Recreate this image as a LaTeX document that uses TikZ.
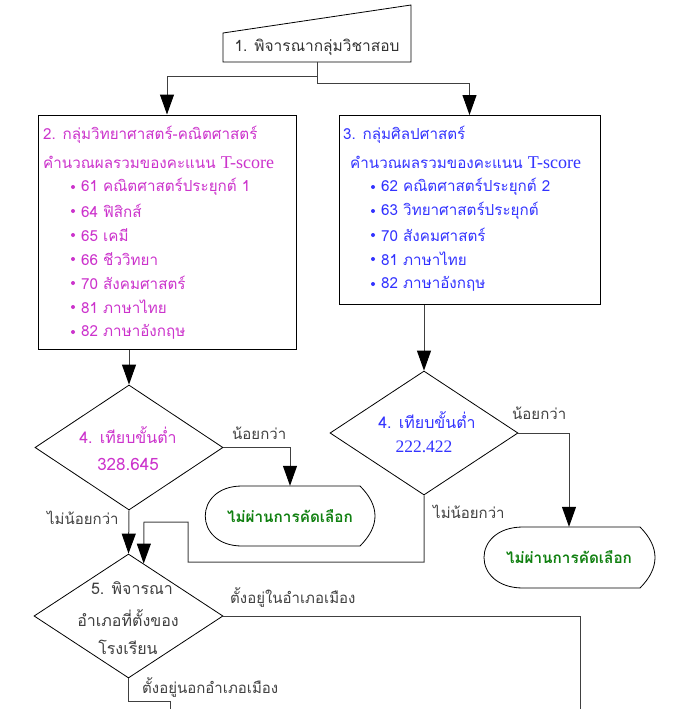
\documentclass[tikz,border=0pt]{standalone}
\usepackage{fontspec}
\setmainfont[Script=Thai]{Loma}
\newfontfamily\lser{Liberation Serif}
\usetikzlibrary{shapes.geometric,arrows.meta,calc}
\definecolor{mag}{RGB}{204,51,204}
\definecolor{blu}{RGB}{51,51,255}
\definecolor{grn}{RGB}{16,128,16}
\definecolor{lab}{RGB}{64,64,64}
\newcommand{\tsc}{{\lser\fontsize{18}{18}\selectfont T-score}}
\tikzset{
  boxshape/.style={draw=black,line width=1pt,fill=white,inner sep=0pt},
  dia/.style={draw=black,line width=0.8pt,diamond,inner sep=0pt,fill=white},
  conn/.style={draw=black!75,line width=1pt},
  arr/.style={conn,-{Triangle[length=20pt,width=14pt,color=black]}},
  txt/.style={inner sep=0pt,font=\fontsize{15.2}{17}\selectfont},
  magt/.style={txt,text=mag,anchor=west},
  blut/.style={txt,text=blu,anchor=west},
  labt/.style={inner sep=0pt,text=lab,font=\fontsize{15}{17}\selectfont},
  dtxt/.style={inner sep=0pt,font=\fontsize{16}{18}\selectfont},
  termtext/.style={inner sep=0pt,minimum width=170pt,minimum height=60pt,text=grn,font=\fontsize{15.3}{17}\selectfont\bfseries},
  bul/.style={circle,fill,inner sep=0pt,minimum size=4pt}
}
\begin{document}
\begin{tikzpicture}[x=1pt,y=-1pt]
\useasboundingbox (0,0) rectangle (694,709);
% top manual-input box
\draw[line width=0.8pt] (223,33) -- (411,5) -- (411,62) -- (223,62) -- cycle;
\node[labt,text=black!80,font=\fontsize{15.5}{17}\selectfont] (n1) at (317,47) {1. พิจารณากลุ่มวิชาสอบ};
\coordinate (t1) at (317,62);
% box 2
\node[boxshape,minimum width=258pt,minimum height=234pt] (b2) at (167,232) {};
\node[magt] (b2a) at (43,135) {2. กลุ่มวิทยาศาสตร์-คณิตศาสตร์};
\node[magt] (b2b) at (43,162) {คำนวณผลรวมของคะแนน \tsc};
\foreach \y/\t [count=\i] in {187/61 คณิตศาสตร์ประยุกต์ 1,211/64 ฟิสิกส์,235/65 เคมี,259/66 ชีววิทยา,283/70 สังคมศาสตร์,307/81 ภาษาไทย,332/82 ภาษาอังกฤษ}{
  \node[bul,mag] (lb\i) at (73,\y) {};
  \node[magt] (lt\i) at (81,\y) {\t};
}
% box 3
\node[boxshape,minimum width=261pt,minimum height=189pt] (b3) at (469.5,210) {};
\node[blut] (b3a) at (343,135) {3. กลุ่มศิลปศาสตร์};
\node[blut] (b3b) at (350,162) {คำนวณผลรวมของคะแนน \tsc};
\foreach \y/\t [count=\i] in {187/62 คณิตศาสตร์ประยุกต์ 2,211/63 วิทยาศาสตร์ประยุกต์,235/70 สังคมศาสตร์,259/81 ภาษาไทย,284/82 ภาษาอังกฤษ}{
  \node[bul,blu] (rb\i) at (373,\y) {};
  \node[blut] (rt\i) at (381,\y) {\t};
}
% diamonds
\node[dia,minimum width=188pt,minimum height=125pt] (d1) at (129,447.5) {};
\node[dtxt,text=mag] (d1a) at (128,435) {4. เทียบขั้นต่ำ};
\node[dtxt,text=mag,font=\fontsize{17}{18}\selectfont] (d1b) at (128,464) {328.645};
\node[dia,minimum width=188pt,minimum height=124pt] (d2) at (424,433) {};
\node[dtxt,text=blu] (d2a) at (427,420) {4. เทียบขั้นต่ำ};
\node[dtxt,text=blu,font=\lser\fontsize{17.5}{18}\selectfont] (d2b) at (424,447) {222.422};
\node[dia,minimum width=189pt,minimum height=124pt] (d5) at (128.5,616) {};
\node[labt,font=\fontsize{16}{18}\selectfont] (d5a) at (132,588) {5. พิจารณา};
\node[labt,font=\fontsize{16}{18}\selectfont] (d5b) at (128,618) {อำเภอที่ตั้งของ};
\node[labt,font=\fontsize{16}{18}\selectfont] (d5c) at (128,647) {โรงเรียน};
% terminals
\draw[line width=0.8pt,fill=white] (242,486) -- (360,486) .. controls (380,506) and (380,526) .. (360,546) -- (242,546) .. controls (193,546) and (193,486) .. cycle;
\node[termtext] (term1) at (290,516) {ไม่ผ่านการคัดเลือก};
\draw[line width=0.8pt,fill=white] (523,527) -- (640,527) .. controls (660,547) and (660,568) .. (640,588) -- (523,588) .. controls (471,588) and (471,527) .. cycle;
\node[termtext,minimum height=61pt] (term2) at (569,557.5) {ไม่ผ่านการคัดเลือก};
% connectors
\draw[arr] (t1) -- ++(0,14) -| (b2.north);
\draw[arr] (t1) -- ++(0,21) -| (b3.north);
\draw[arr] (b2.south -| d1.north) -- (d1.north);
\draw[arr] (b3.south -| d2.north) -- (d2.north);
\draw[arr] (d1.east) -| (term1.north);
\draw[arr] (d2.east) -| (term2.north);
\draw[arr] (d1.south) -- (d5.north);
\draw[arr] (d2.south) |- (188,562) |- (144,522) -- ($(d5.north)!0.16!(d5.east)$);
\coordinate (e1) at (580,712);
\coordinate (e2) at (170,712);
\draw[conn] (d5.east) -| (e1);
\draw[conn] (d5.south) |- (170,701) -- (e2);
% labels
\node[labt,anchor=west] (l1) at (232,433) {น้อยกว่า};
\node[labt,anchor=west] (l2) at (47,518) {ไม่น้อยกว่า};
\node[labt,anchor=west] (l3) at (512,413) {น้อยกว่า};
\node[labt,anchor=west] (l4) at (433,512) {ไม่น้อยกว่า};
\node[labt,anchor=west] (l5) at (230,598) {ตั้งอยู่ในอำเภอเมือง};
\node[labt,anchor=west] (l6) at (142,687) {ตั้งอยู่นอกอำเภอเมือง};
\end{tikzpicture}
\end{document}
